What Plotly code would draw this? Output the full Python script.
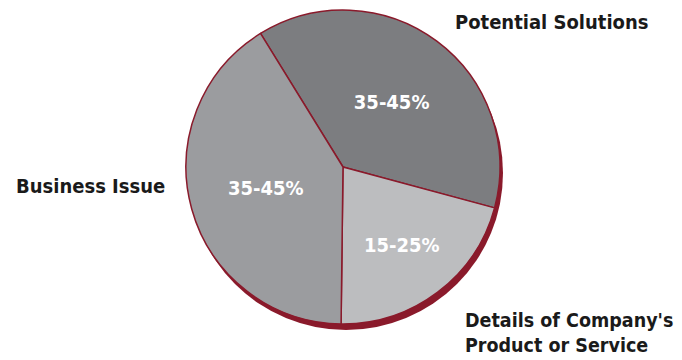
import plotly.graph_objects as go

categories = ["Potential Solutions", "Details of Company's<br>Product or Service", "Business Issue"]
shares = [38, 21, 41]
range_labels = ["35-45%", "15-25%", "35-45%"]
slice_colors = ["#7c7d80", "#bcbdbf", "#9b9c9f"]
maroon = "#8a1a2b"
FONT = "Liberation Sans Narrow, DejaVu Sans Condensed, Arial Narrow, sans-serif"

W, H = 682, 360

fig = go.Figure()

# shadow disc (drop shadow in maroon)
fig.add_trace(go.Pie(
    values=[1], marker=dict(colors=[maroon], line=dict(width=0)),
    textinfo="none", hoverinfo="skip", sort=False, showlegend=False,
    domain=dict(x=[189 / W, 503 / W], y=[1 - 330 / H, 1 - 16 / H]),
))

fig.add_trace(go.Pie(
    labels=categories, values=shares, text=range_labels,
    texttemplate="%{text}", textposition="inside", insidetextorientation="horizontal",
    textfont=dict(family=FONT, size=20, color="white", weight="bold"),
    marker=dict(colors=slice_colors, line=dict(color=maroon, width=1.5)),
    sort=False, direction="clockwise", rotation=-31.7, showlegend=False,
    domain=dict(x=[186 / W, 500 / W], y=[1 - 324 / H, 1 - 10 / H]),
))

ann_font = dict(family=FONT, size=20, color="#1a1a1a", weight="bold")
fig.add_annotation(text="Potential Solutions", x=453 / W, y=1 - 22 / H, xref="paper", yref="paper",
                   xanchor="left", yanchor="middle", showarrow=False, font=ann_font)
fig.add_annotation(text="Business Issue", x=14 / W, y=1 - 186 / H, xref="paper", yref="paper",
                   xanchor="left", yanchor="middle", showarrow=False, font=ann_font)
fig.add_annotation(text="Details of Company's<br>Product or Service", x=463 / W, y=1 - 333 / H,
                   xref="paper", yref="paper", xanchor="left", yanchor="middle", align="left",
                   showarrow=False, font=dict(family=FONT, size=19.5, color="#1a1a1a", weight="bold"))

fig.update_layout(width=W, height=H, margin=dict(l=0, r=0, t=0, b=0),
                  paper_bgcolor="white", plot_bgcolor="white")
fig.write_html("out.html", config={"displayModeBar": False},
               post_script="document.body.style.margin='0';document.body.style.padding='0';")
